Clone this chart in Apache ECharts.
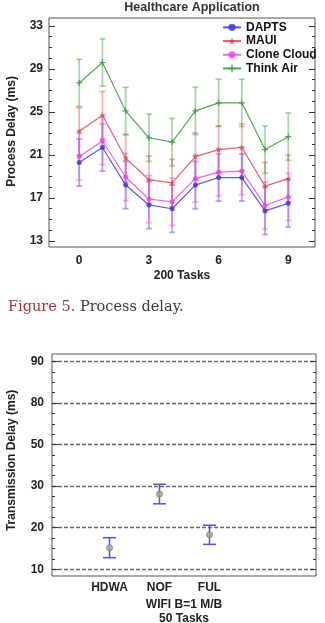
<!DOCTYPE html>
<html>
<head>
<meta charset="utf-8">
<script src="https://cdn.jsdelivr.net/npm/echarts@6/dist/echarts.min.js"></script>
<style>
html,body{margin:0;padding:0;background:#fff;}
#c{width:325px;height:623px;}
</style>
</head>
<body>
<div id="c"></div>
<script>
// ---- Top chart data (Healthcare Application, 200 Tasks) ----
const tasks = [0, 1, 2, 3, 4, 5, 6, 7, 8, 9];
const dapts = [20.3, 21.7, 18.2, 16.35, 16.0, 18.2, 18.9, 18.9, 15.8, 16.5];
const maui = [23.2, 24.7, 20.7, 18.7, 18.4, 20.85, 21.5, 21.7, 18.1, 18.8];
const cloneCloud = [20.85, 22.3, 18.95, 16.9, 16.65, 18.8, 19.4, 19.5, 16.3, 17.1];
const thinkAir = [27.7, 29.6, 25.1, 22.6, 22.2, 25.1, 25.85, 25.85, 21.5, 22.7];
const daptsErr = [2.2, 2.2, 2.2, 2.2, 2.2, 2.2, 2.2, 2.2, 2.2, 2.2];
const mauiErr = [2.2, 2.2, 2.2, 2.2, 2.2, 2.2, 2.2, 2.2, 2.2, 2.2];
const cloneCloudErr = [2.2, 2.2, 2.2, 2.2, 2.2, 2.2, 2.2, 2.2, 2.2, 2.2];
const thinkAirErr = [2.2, 2.2, 2.2, 2.2, 2.2, 2.2, 2.2, 2.2, 2.2, 2.2];
const topYTicks = [13, 17, 21, 25, 29, 33];
const topXTicks = [0, 3, 6, 9];

// ---- Bottom chart data (WIFI B=1 M/B, 50 Tasks) ----
const methods = ['HDWA', 'NOF', 'FUL'];
const transDelay = [15.2, 28.1, 18.3];
const transErr = [2.4, 2.35, 2.3];
const bottomYTickLabels = ['10', '20', '30', '50', '80', '90'];

const FONT = 'Liberation Sans, Arial, sans-serif';

const chart = echarts.init(document.getElementById('c'), null, {renderer: 'canvas'});

// plot boxes
const G1 = {left: 49, top: 18, width: 266, height: 229, min: 12.44, max: 33.74};
const G2 = {left: 52, top: 354, width: 264, height: 222, min: 8.39, max: 61.78};
const botPos = bottomYTickLabels.map((_, i) => (i + 1) * 10);
const tMin = topYTicks[0], tMax = topYTicks[topYTicks.length - 1];
const bMin = botPos[0], bMax = botPos[botPos.length - 1];
function yPix(G, v) { return G.top + (G.max - v) / (G.max - G.min) * G.height; }
// tick grids spanning exactly the first..last tick
const T1 = {left: G1.left, width: G1.width, top: yPix(G1, tMax), height: yPix(G1, tMin) - yPix(G1, tMax)};
const T2 = {left: G2.left, width: G2.width, top: yPix(G2, bMax), height: yPix(G2, bMin) - yPix(G2, bMax)};

const seriesDefs = [
  {name: 'DAPTS', data: dapts, err: daptsErr, color: '#3c3cdc', symbol: 'circle', size: 5},
  {name: 'MAUI', data: maui, err: mauiErr, color: '#e24848', symbol: 'path://M5,0L6.2,3.6L10,3.6L7,6L8.1,10L5,7.6L1.9,10L3,6L0,3.6L3.8,3.6Z', size: 6},
  {name: 'Clone Cloud', data: cloneCloud, err: cloneCloudErr, color: '#ee44ee', symbol: 'circle', size: 5},
  {name: 'Think Air', data: thinkAir, err: thinkAirErr, color: '#3a983a', symbol: 'path://M4,0H6V4H10V6H6V10H4V6H0V4H4Z', size: 6}
];

function errRender(capHalf, color, width, opacity) {
  return function (params, api) {
    const x = api.value(0);
    const top = api.coord([x, api.value(2)]);
    const bot = api.coord([x, api.value(1)]);
    const st = {stroke: color, lineWidth: width, opacity: opacity};
    return {
      type: 'group',
      children: [
        {type: 'line', shape: {x1: top[0], y1: top[1], x2: bot[0], y2: bot[1]}, style: st},
        {type: 'line', shape: {x1: top[0] - capHalf, y1: top[1], x2: top[0] + capHalf, y2: top[1]}, style: st},
        {type: 'line', shape: {x1: bot[0] - capHalf, y1: bot[1], x2: bot[0] + capHalf, y2: bot[1]}, style: st}
      ]
    };
  };
}

const series = [];
seriesDefs.forEach(d => {
  series.push({
    type: 'custom', xAxisIndex: 0, yAxisIndex: 0, z: 1, silent: true,
    renderItem: errRender(3, d.color, 1.8, 0.42),
    encode: {x: 0, y: [1, 2]},
    data: tasks.map((t, i) => [t, d.data[i] - d.err[i], d.data[i] + d.err[i]])
  });
});
seriesDefs.forEach(d => {
  series.push({
    name: d.name, type: 'line', xAxisIndex: 0, yAxisIndex: 0, z: 3,
    symbol: d.symbol, symbolSize: d.size, showSymbol: true,
    itemStyle: {color: d.color, opacity: 0.85},
    lineStyle: {color: d.color, width: 1.2, opacity: 0.85},
    data: tasks.map((t, i) => [t, d.data[i]])
  });
});
series.push({
  type: 'custom', xAxisIndex: 1, yAxisIndex: 1, z: 2, silent: true,
  renderItem: errRender(6.5, '#4a4ae0', 1.5, 0.95),
  encode: {x: 0, y: [1, 2]},
  data: methods.map((m, i) => [i + 1, transDelay[i] - transErr[i], transDelay[i] + transErr[i]])
});
series.push({
  type: 'scatter', xAxisIndex: 1, yAxisIndex: 1, z: 3,
  symbol: 'circle', symbolSize: 6,
  itemStyle: {color: '#a9a98f', borderColor: '#7c7c70', borderWidth: 1},
  data: methods.map((m, i) => [i + 1, transDelay[i]])
});

const gridBase = {outerBoundsMode: 'none', containLabel: false, backgroundColor: 'transparent'};
const tickStyle = {color: '#333', width: 1};
const labelStyle = {fontFamily: FONT, fontWeight: 'bold', fontSize: 12, color: '#222'};

function tickAxis(grid, pos, min, max, interval, extra) {
  return Object.assign({
    type: 'value', gridIndex: grid, position: pos, min: min, max: max, interval: interval,
    axisLine: {show: false, onZero: false},
    axisTick: {show: true, inside: true, length: 6, lineStyle: tickStyle},
    minorTick: {show: true, splitNumber: 4, length: 3, lineStyle: tickStyle},
    axisLabel: {show: false}, splitLine: {show: false}
  }, extra || {});
}

const option = {
  animation: false,
  backgroundColor: '#fff',
  textStyle: {fontFamily: FONT},
  grid: [
    Object.assign({left: G1.left, top: G1.top, width: G1.width, height: G1.height, show: true, borderColor: '#555', borderWidth: 1}, gridBase),
    Object.assign({left: G2.left, top: G2.top, width: G2.width, height: G2.height, show: true, borderColor: '#555', borderWidth: 1}, gridBase),
    Object.assign({left: T1.left, top: T1.top, width: T1.width, height: T1.height, show: false}, gridBase),
    Object.assign({left: T2.left, top: T2.top, width: T2.width, height: T2.height, show: false}, gridBase)
  ],
  legend: {
    data: seriesDefs.map(d => d.name),
    orient: 'vertical', left: 222, top: 20.5,
    itemWidth: 18, itemHeight: 9, itemGap: 0, padding: 0,
    textStyle: {fontFamily: FONT, fontWeight: 'bold', fontSize: 12, color: '#111', lineHeight: 13.7}
  },
  xAxis: [
    {
      type: 'value', gridIndex: 0, min: -1.3, max: 10.15,
      axisLine: {show: false, onZero: false}, splitLine: {show: false}, axisTick: {show: false},
      axisLabel: Object.assign({customValues: topXTicks, margin: 8}, labelStyle),
      name: '200 Tasks', nameLocation: 'middle', nameGap: 23,
      nameTextStyle: labelStyle
    },
    {
      type: 'value', gridIndex: 1, min: -0.15, max: 5.13,
      axisLine: {show: false, onZero: false}, splitLine: {show: false}, axisTick: {show: false},
      axisLabel: Object.assign({customValues: [1, 2, 3], formatter: v => methods[Math.round(v) - 1] || '', margin: 6}, labelStyle),
      name: 'WIFI B=1 M/B\n50 Tasks', nameLocation: 'middle', nameGap: 22,
      nameTextStyle: Object.assign({lineHeight: 14, verticalAlign: 'top'}, labelStyle)
    },
    {type: 'value', gridIndex: 2, min: 0, max: 1, show: false},
    {type: 'value', gridIndex: 3, min: 0, max: 1, show: false}
  ],
  yAxis: [
    {type: 'value', gridIndex: 0, min: G1.min, max: G1.max, show: false, splitLine: {show: false}},
    {type: 'value', gridIndex: 1, min: G2.min, max: G2.max, show: false, splitLine: {show: false}},
    // top ticks + labels
    tickAxis(2, 'left', tMin, tMax, 4, {
      axisLabel: Object.assign({show: true, margin: 6}, labelStyle),
      name: 'Process Delay (ms)', nameLocation: 'middle', nameGap: 31,
      nameTextStyle: Object.assign({padding: [0, 0, 0, 4]}, labelStyle)
    }),
    tickAxis(2, 'right', tMin, tMax, 4),
    // bottom ticks + labels + dashed grid lines
    tickAxis(3, 'left', bMin, bMax, 10, {
      axisLabel: Object.assign({show: true, margin: 8, formatter: v => bottomYTickLabels[Math.round(v / 10) - 1] || ''}, labelStyle),
      splitLine: {show: true, lineStyle: {color: '#666', width: 1.4, type: [4, 2]}},
      name: 'Transmission Delay (ms)', nameLocation: 'middle', nameGap: 34,
      nameTextStyle: Object.assign({padding: [0, 0, 0, 10]}, labelStyle)
    }),
    tickAxis(3, 'right', bMin, bMax, 10)
  ],
  graphic: [
    {
      type: 'text', x: 192, y: 8, silent: true,
      style: {text: 'Healthcare Application', textAlign: 'center', textVerticalAlign: 'middle',
        font: 'bold 12.5px ' + FONT, fill: '#333'}
    },
    {
      type: 'text', x: 8, y: 307, silent: true,
      style: {
        text: '{a|Figure 5.} {b|Process delay.}', textAlign: 'left', textVerticalAlign: 'middle',
        rich: {
          a: {fontFamily: 'DejaVu Serif', fontSize: 14.5, fill: '#a3353b', color: '#a3353b'},
          b: {fontFamily: 'DejaVu Serif', fontSize: 14.5, fill: '#3a3a3a', color: '#3a3a3a'}
        },
        font: '14.5px DejaVu Serif', fill: '#3a3a3a'
      }
    }
  ],
  series: series
};

chart.setOption(option);
</script>
</body>
</html>
